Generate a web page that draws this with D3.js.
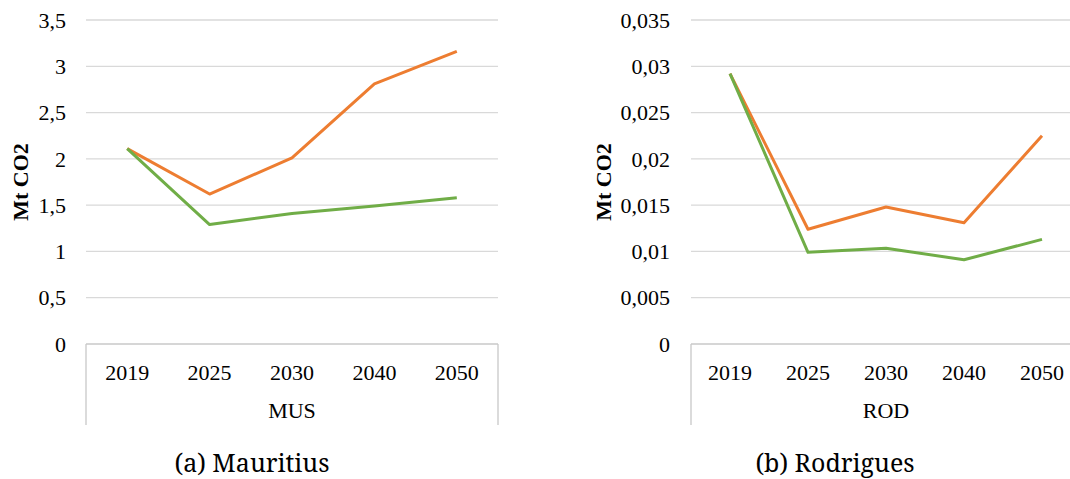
<!DOCTYPE html>
<html><head><meta charset="utf-8">
<script src="https://cdn.jsdelivr.net/npm/d3@7"></script>
<style>body{margin:0;background:#fff}svg{display:block}</style>
</head><body>
<svg id="c" width="1070" height="479"></svg>
<script>
const years = ["2019","2025","2030","2040","2050"];
const musOrange = [2.11, 1.62, 2.01, 2.81, 3.16];
const musGreen  = [2.11, 1.29, 1.41, 1.49, 1.58];
const rodOrange = [0.0292, 0.0124, 0.0148, 0.0131, 0.0225];
const rodGreen  = [0.0292, 0.0099, 0.01035, 0.0091, 0.0113];
const musTicks = [0, 0.5, 1, 1.5, 2, 2.5, 3, 3.5];
const rodTicks = [0, 0.005, 0.01, 0.015, 0.02, 0.025, 0.03, 0.035];
const panels = [
  {x0:86, x1:498, max:3.5, ticks:musTicks, series:[musOrange, musGreen], group:"MUS", caption:"(a) Mauritius", capX:252, titleX:21, labelRight:66},
  {x0:691, x1:1081, max:0.035, ticks:rodTicks, series:[rodOrange, rodGreen], group:"ROD", caption:"(b) Rodrigues", capX:835, titleX:604, labelRight:670}
];
const colors = ["#ED7D31", "#70AD47"];
const svg = d3.select("#c");
const yTop = 20, yBot = 344, boxBot = 425;
const fmt = v => String(v).replace(".", ",");
const serif = "Liberation Serif";

panels.forEach(p => {
  const g = svg.append("g");
  const x = d3.scaleBand().domain(years).range([p.x0, p.x1]).padding(0);
  const y = d3.scaleLinear().domain([0, p.max]).range([yBot, yTop]);
  g.selectAll(".grid").data(p.ticks.filter(t => t > 0)).join("line")
    .attr("x1", p.x0).attr("x2", p.x1)
    .attr("y1", d => y(d)).attr("y2", d => y(d))
    .attr("stroke", "#d9d9d9").attr("stroke-width", 1.3);
  g.append("line").attr("x1", p.x0).attr("x2", p.x1).attr("y1", y(0)).attr("y2", y(0))
    .attr("stroke", "#c8c8c8").attr("stroke-width", 1.3);
  [p.x0, p.x1].forEach(xx => g.append("line").attr("x1", xx).attr("x2", xx)
    .attr("y1", y(0)).attr("y2", boxBot).attr("stroke", "#c8c8c8").attr("stroke-width", 1.3));
  g.selectAll(".yl").data(p.ticks).join("text")
    .attr("x", p.labelRight).attr("y", d => y(d)).attr("dy", "0.35em")
    .attr("text-anchor", "end").style("font-family", serif).style("font-size", "22px")
    .attr("fill", "#000").text(d => fmt(d));
  g.selectAll(".xl").data(years).join("text")
    .attr("x", d => x(d) + x.bandwidth()/2).attr("y", 380)
    .attr("text-anchor", "middle").style("font-family", serif).style("font-size", "22px")
    .attr("fill", "#000").text(d => d);
  g.append("text").attr("x", x("2030") + x.bandwidth()/2)
    .attr("y", 418).attr("text-anchor", "middle").style("font-family", serif)
    .style("font-size", "22px").text(p.group);
  g.append("text").attr("transform", `translate(${p.titleX + 7},182) rotate(-90)`)
    .attr("text-anchor", "middle").style("font-family", serif).style("font-weight", "bold")
    .style("font-size", "22px").text("Mt CO2");
  const line = d3.line().x((d, i) => x(years[i]) + x.bandwidth()/2).y(d => y(d));
  p.series.forEach((s, i) => {
    g.append("path").datum(s).attr("d", line).attr("fill", "none")
      .attr("stroke", colors[i]).attr("stroke-width", 3).attr("stroke-linejoin", "round");
  });
  g.append("text").attr("x", p.capX).attr("y", 472).attr("text-anchor", "middle")
    .style("font-family", "Noto Serif").style("font-size", "25px").text(p.caption);
});
</script>
</body></html>
